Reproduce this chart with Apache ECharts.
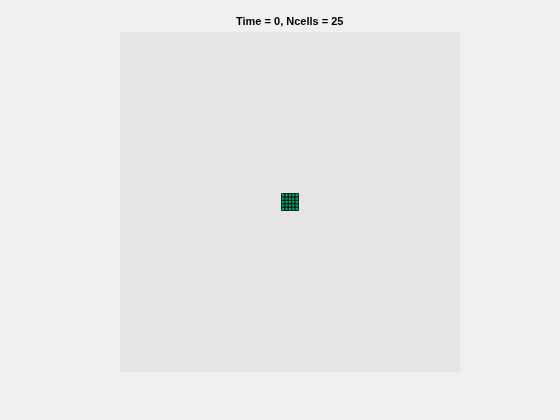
<!DOCTYPE html>
<html><head><meta charset="utf-8">
<script src="https://cdn.jsdelivr.net/npm/echarts@6/dist/echarts.min.js"></script>
<style>html,body{margin:0;padding:0;background:#f0f0f0}#c{width:560px;height:420px}</style>
</head><body><div id="c"></div>
<script>
const titleText = 'Time = 0, Ncells = 25';
const cellX = [-2,-1,0,1,2,-2,-1,0,1,2,-2,-1,0,1,2,-2,-1,0,1,2,-2,-1,0,1,2];
const cellY = [-2,-2,-2,-2,-2,-1,-1,-1,-1,-1,0,0,0,0,0,1,1,1,1,1,2,2,2,2,2];
const cellSize = 1;
const axisMin = -50, axisMax = 50;

const data = cellX.map((x,i)=>[x, cellY[i]]);
const chart = echarts.init(document.getElementById('c'), null, {renderer:'canvas'});
chart.setOption({
  backgroundColor:'#f0f0f0',
  animation:false,
  title:{text:titleText,left:236,top:16,textStyle:{fontFamily:'Liberation Sans, Arial, sans-serif',fontSize:11,fontWeight:'bold',color:'#000'},padding:0},
  grid:{left:120,top:32,width:340,height:340,show:true,backgroundColor:'#e5e5e5',borderWidth:0},
  xAxis:{type:'value',min:axisMin,max:axisMax,show:false},
  yAxis:{type:'value',min:axisMin,max:axisMax,show:false},
  series:[{
    type:'custom',
    data:data,
    renderItem:function(params,api){
      const x=api.value(0), y=api.value(1);
      const p0=api.coord([x-cellSize/2,y+cellSize/2]);
      const p1=api.coord([x+cellSize/2,y-cellSize/2]);
      return {type:'rect',shape:{x:p0[0],y:p0[1],width:p1[0]-p0[0],height:p1[1]-p0[1]},
        style:{fill:'#00a86b',stroke:'#000',lineWidth:0.8}};
    }
  }]
});
</script></body></html>
